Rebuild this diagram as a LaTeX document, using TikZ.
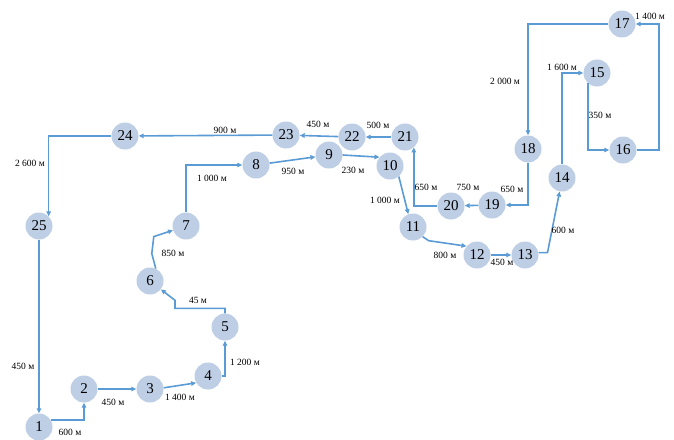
\documentclass[tikz,border=0pt]{standalone}
\usepackage{fontspec}
\setmainfont{Liberation Serif}
\usepackage{tikz}
\usetikzlibrary{arrows.meta, calc}
\definecolor{pipe}{RGB}{91,155,213}
\definecolor{well}{RGB}{190,206,229}

\begin{document}
\begin{tikzpicture}[x=1pt, y=-1pt,
    pt/.style={circle, fill=well, minimum size=27pt, inner sep=0pt, font=\fontsize{15}{15}\selectfont},
    link/.style={draw=pipe, line width=1.6pt, -{Triangle[length=5pt,width=4.5pt]}},
    dist/.style={font=\fontsize{9.5}{10}\selectfont, inner sep=1pt}]
            \useasboundingbox (0,0) rectangle (674,439);

            \node[pt] (n1) at (39,427) {1};
            \node[pt] (n2) at (84,389) {2};
            \node[pt] (n3) at (150,389) {3};
            \node[pt] (n4) at (208,376) {4};
            \node[pt] (n5) at (225,327) {5};
            \node[pt] (n6) at (150,281) {6};
            \node[pt] (n7) at (186,226) {7};
            \node[pt] (n8) at (256,165) {8};
            \node[pt] (n9) at (329,155) {9};
            \node[pt] (n10) at (390,166) {10};
            \node[pt] (n11) at (413,227) {11};
            \node[pt] (n12) at (477,255) {12};
            \node[pt] (n13) at (525,255) {13};
            \node[pt] (n14) at (562,178) {14};
            \node[pt] (n15) at (597,73) {15};
            \node[pt] (n16) at (623,150) {16};
            \node[pt] (n17) at (622,24) {17};
            \node[pt] (n18) at (528,149) {18};
            \node[pt] (n19) at (492,205) {19};
            \node[pt] (n20) at (451,206) {20};
            \node[pt] (n21) at (405,137) {21};
            \node[pt] (n22) at (352,137) {22};
            \node[pt] (n23) at (286,135) {23};
            \node[pt] (n24) at (125,136) {24};
            \node[pt] (n25) at (39,226) {25};

            \draw[link] (n1.30) -| (n2.south);
            \draw[link] (n2) -- (n3);
            \draw[link] (n3.5) -- (n4.210);
            \draw[link] (n4.east) -| (n5.south);
            \draw[link] (n5.north) -- ++(0,-5) -| ++(-50,-8) -- (n6);
            \draw[link] (n6.65) -- ++(-4,-15) -- ++(2,-17) -- (n7);
            \draw[link] (n7.north) |- (n8.west);
            \draw[link] (n8) -- (n9);
            \draw[link] (n9.east) -- (n10.140);
            \draw[link] (n10.-50) -- (n11.110);
            \draw[link] (n11.-45) -- ++(6,4) -- (n12.140);
            \draw[link] (n12) -- (n13);
            \draw[link] (n13.10) -- ++(9,0) -- (n14.-100);
            \draw[link] (n14.north) |- (n15.west);
            \draw[link] (n15.-130) |- (n16.west);
            \draw[link] (n16.east) -- ++(22,0) |- (n17.east);
            \draw[link] (n17.west) -| (n18.north);
            \draw[link] (n18.south) |- (n19.east);
            \draw[link] (n19) -- (n20);
            \draw[link] (n20.west) -| (n21.-50);
            \draw[link] (n21) -- (n22);
            \draw[link] (n22) -- (n23);
            \draw[link] (n23) -- (n24);
            \draw[link] (n24.west) -| (n25.45);
            \draw[link] (n25.south) -- (n1.north);

            % distances
            \node[dist] (d1) at (70,432) {600 м};
            \node[dist] (d2) at (113,402) {450 м};
            \node[dist] (d3) at (180,397) {1 400 м};
            \node[dist] (d4) at (245,362) {1 200 м};
            \node[dist] (d5) at (198,300) {45 м};
            \node[dist] (d6) at (173,253) {850 м};
            \node[dist] (d7) at (212,178) {1 000 м};
            \node[dist] (d8) at (293,171) {950 м};
            \node[dist] (d9) at (353,170) {230 м};
            \node[dist] (d10) at (385,200) {1 000 м};
            \node[dist] (d11) at (445,255) {800 м};
            \node[dist] (d12) at (502,262) {450 м};
            \node[dist] (d13) at (563,230) {600 м};
            \node[dist] (d14) at (562,67) {1 600 м};
            \node[dist] (d15) at (600,115) {350 м};
            \node[dist] (d16) at (650,16) {1 400 м};
            \node[dist] (d17) at (505,81) {2 000 м};
            \node[dist] (d18) at (512,189) {650 м};
            \node[dist] (d19) at (468,187) {750 м};
            \node[dist] (d20) at (426,187) {650 м};
            \node[dist] (d21) at (378,125) {500 м};
            \node[dist] (d22) at (318,124) {450 м};
            \node[dist] (d23) at (225,130) {900 м};
            \node[dist] (d24) at (30,163) {2 600 м};
            \node[dist] (d25) at (23,366) {450 м};
        \end{tikzpicture}
\end{document}
